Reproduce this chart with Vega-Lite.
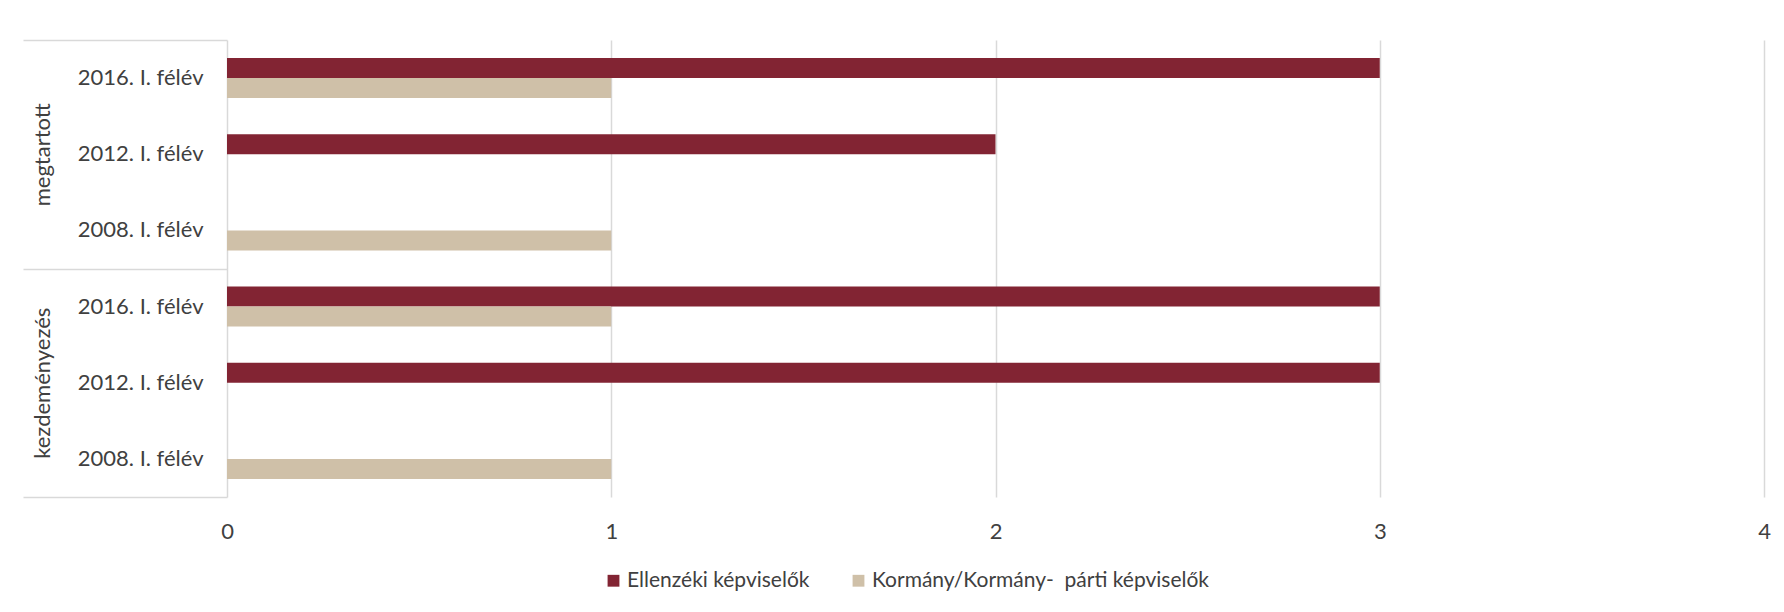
{
  "$schema": "https://vega.github.io/schema/vega-lite/v6.json",
  "width": 1537,
  "height": 457,
  "autosize": {"type": "none"},
  "padding": {"left": 227, "top": 40, "right": 20, "bottom": 115},
  "background": "white",
  "config": {
    "view": {"stroke": null},
    "font": "Lato",
    "axis": {"labelFont": "Lato", "labelColor": "#404040", "titleFont": "Lato"},
    "legend": {"labelFont": "Lato"}
  },
  "data": {
    "values": [
      {"group": "megtartott", "key": "megtartott|2016. I. félév", "series": "Ellenzéki képviselők", "value": 3},
      {"group": "megtartott", "key": "megtartott|2016. I. félév", "series": "Kormány/Kormány-  párti képviselők", "value": 1},
      {"group": "megtartott", "key": "megtartott|2012. I. félév", "series": "Ellenzéki képviselők", "value": 2},
      {"group": "megtartott", "key": "megtartott|2012. I. félév", "series": "Kormány/Kormány-  párti képviselők", "value": 0},
      {"group": "megtartott", "key": "megtartott|2008. I. félév", "series": "Ellenzéki képviselők", "value": 0},
      {"group": "megtartott", "key": "megtartott|2008. I. félév", "series": "Kormány/Kormány-  párti képviselők", "value": 1},
      {"group": "kezdeményezés", "key": "kezdeményezés|2016. I. félév", "series": "Ellenzéki képviselők", "value": 3},
      {"group": "kezdeményezés", "key": "kezdeményezés|2016. I. félév", "series": "Kormány/Kormány-  párti képviselők", "value": 1},
      {"group": "kezdeményezés", "key": "kezdeményezés|2012. I. félév", "series": "Ellenzéki képviselők", "value": 3},
      {"group": "kezdeményezés", "key": "kezdeményezés|2012. I. félév", "series": "Kormány/Kormány-  párti képviselők", "value": 0},
      {"group": "kezdeményezés", "key": "kezdeményezés|2008. I. félév", "series": "Ellenzéki képviselők", "value": 0},
      {"group": "kezdeményezés", "key": "kezdeményezés|2008. I. félév", "series": "Kormány/Kormány-  párti képviselők", "value": 1}
    ]
  },
  "layer": [
    {
      "mark": {"type": "bar", "opacity": 0},
      "encoding": {
        "y": {
          "field": "group",
          "type": "nominal",
          "sort": ["megtartott", "kezdeményezés"],
          "scale": {"paddingInner": 0, "paddingOuter": 0},
          "axis": {
            "orient": "left",
            "title": null,
            "domain": false,
            "ticks": true,
            "tickBand": "extent",
            "tickSize": 204,
            "tickColor": "#d9d9d9",
            "tickWidth": 1.5,
            "labelAngle": -90,
            "labelAlign": "center",
            "labelBaseline": "middle",
            "labelPadding": -19,
            "labelFontSize": 22,
            "labelColor": "#404040"
          }
        }
      }
    },
    {
      "mark": {"type": "bar"},
      "encoding": {
        "y": {
          "field": "key",
          "type": "nominal",
          "sort": [
            "megtartott|2016. I. félév",
            "megtartott|2012. I. félév",
            "megtartott|2008. I. félév",
            "kezdeményezés|2016. I. félév",
            "kezdeményezés|2012. I. félév",
            "kezdeményezés|2008. I. félév"
          ],
          "scale": {"paddingInner": 0.475, "paddingOuter": 0.2375},
          "axis": {
            "orient": "left",
            "title": null,
            "domain": false,
            "ticks": false,
            "labelPadding": 24,
            "labelFontSize": 22,
            "labelColor": "#404040",
            "labelExpr": "split(datum.value, '|')[1]"
          }
        },
        "yOffset": {
          "field": "series",
          "type": "nominal",
          "sort": ["Ellenzéki képviselők", "Kormány/Kormány-  párti képviselők"],
          "scale": {"paddingInner": 0, "paddingOuter": 0}
        },
        "x": {
          "field": "value",
          "type": "quantitative",
          "scale": {"domain": [0, 4], "nice": false},
          "axis": {
            "title": null,
            "values": [0, 1, 2, 3, 4],
            "domain": false,
            "ticks": false,
            "grid": true,
            "gridColor": "#d9d9d9",
            "gridWidth": 1.5,
            "labelFlush": false,
            "labelPadding": 24,
            "labelFontSize": 22,
            "labelColor": "#404040"
          }
        },
        "color": {
          "field": "series",
          "type": "nominal",
          "sort": ["Ellenzéki képviselők", "Kormány/Kormány-  párti képviselők"],
          "scale": {"range": ["#822433", "#CFC0A8"]},
          "legend": {
            "title": null,
            "orient": "none",
            "direction": "horizontal",
            "legendX": 376,
            "legendY": 530,
            "symbolType": "square",
            "symbolSize": 140,
            "symbolOpacity": 1,
            "symbolStrokeWidth": 0,
            "labelFontSize": 21,
            "labelLimit": 0,
            "labelColor": "#404040",
            "labelExpr": "replace(datum.label, '  ', ' \u00a0')",
            "columnPadding": 38,
            "labelOffset": 3
          }
        }
      }
    }
  ],
  "resolve": {"scale": {"y": "independent"}, "axis": {"y": "independent"}}
}
